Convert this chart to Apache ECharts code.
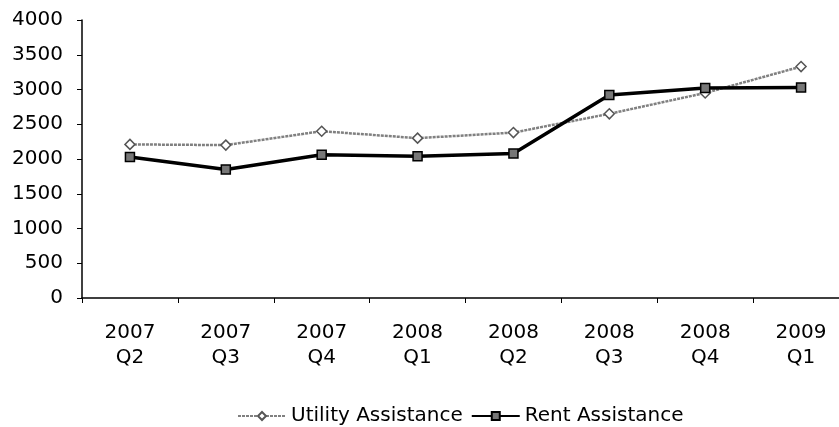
<!DOCTYPE html>
<html>
<head>
<meta charset="utf-8">
<script src="https://cdn.jsdelivr.net/npm/echarts@6/dist/echarts.min.js"></script>
<style>
html,body{margin:0;padding:0;background:#fff;}
#chart{width:839px;height:427px;}
</style>
</head>
<body>
<div id="chart"></div>
<script>
var categories = ['2007\nQ2','2007\nQ3','2007\nQ4','2008\nQ1','2008\nQ2','2008\nQ3','2008\nQ4','2009\nQ1'];
var utilityAssistance = [2210, 2200, 2400, 2300, 2380, 2650, 2950, 3330];
var rentAssistance = [2030, 1850, 2060, 2040, 2080, 2920, 3020, 3030];
var yTicks = [0, 500, 1000, 1500, 2000, 2500, 3000, 3500, 4000];

var chart = echarts.init(document.getElementById('chart'));
var font = 'DejaVu Sans, sans-serif';
chart.setOption({
  animation: false,
  backgroundColor: '#fff',
  grid: {left: 82, width: 767, top: 20, height: 278, outerBoundsMode: 'none', containLabel: false},
  legend: {
    top: 401,
    left: 232,
    itemWidth: 48,
    itemHeight: 10,
    itemGap: 8,
    textStyle: {fontFamily: font, fontSize: 20, color: '#000'},
    data: ['Utility Assistance', 'Rent Assistance']
  },
  xAxis: {
    type: 'category',
    data: categories,
    boundaryGap: true,
    axisLine: {lineStyle: {color: '#000', width: 1.5}},
    axisTick: {show: true, length: 5, lineStyle: {color: '#000'}},
    axisLabel: {fontFamily: font, fontSize: 20, color: '#000', margin: 22, lineHeight: 25}
  },
  yAxis: {
    type: 'value',
    min: yTicks[0],
    max: yTicks[yTicks.length - 1],
    interval: yTicks[1] - yTicks[0],
    splitLine: {show: false},
    axisLine: {show: true, lineStyle: {color: '#000', width: 1.5}},
    axisTick: {show: true, length: 5, lineStyle: {color: '#000'}},
    axisLabel: {fontFamily: font, fontSize: 20, color: '#000', margin: 19,
      formatter: function (v) { return String(v); }}
  },
  series: [
    {
      name: 'Utility Assistance',
      type: 'line',
      data: utilityAssistance,
      symbol: 'diamond',
      symbolSize: 10,
      lineStyle: {color: '#808080', width: 2.5, type: [3, 1]},
      itemStyle: {color: '#fff', borderColor: '#555', borderWidth: 1.5}
    },
    {
      name: 'Rent Assistance',
      type: 'line',
      data: rentAssistance,
      symbol: 'rect',
      symbolSize: 9,
      lineStyle: {color: '#000', width: 3.5},
      itemStyle: {color: '#777', borderColor: '#000', borderWidth: 1.5}
    }
  ]
});
</script>
</body>
</html>
